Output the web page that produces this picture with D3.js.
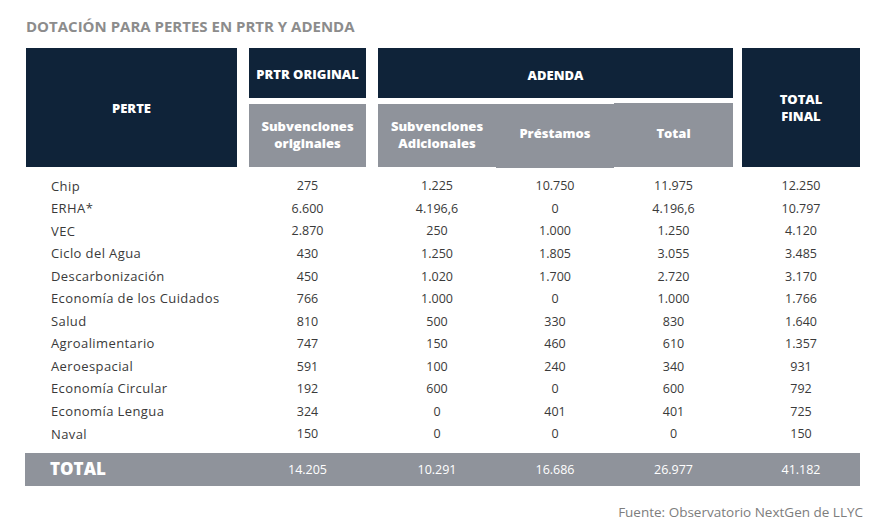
<!DOCTYPE html>
<html>
<head>
<meta charset="utf-8">
<script src="https://cdn.jsdelivr.net/npm/d3@7"></script>
<style>
  body { margin: 0; background: #fff; }
  text { font-family: "Open Sans", sans-serif; }
</style>
</head>
<body>
<script>
var pertes = ["Chip", "ERHA*", "VEC", "Ciclo del Agua", "Descarbonización",
  "Economía de los Cuidados", "Salud", "Agroalimentario", "Aeroespacial",
  "Economía Circular", "Economía Lengua", "Naval"];
var subvOriginales  = [275, 6600, 2870, 430, 450, 766, 810, 747, 591, 192, 324, 150];
var subvAdicionales = [1225, 4196.6, 250, 1250, 1020, 1000, 500, 150, 100, 600, 0, 0];
var prestamos       = [10750, 0, 1000, 1805, 1700, 0, 330, 460, 240, 0, 401, 0];
var totalAdenda     = [11975, 4196.6, 1250, 3055, 2720, 1000, 830, 610, 340, 600, 401, 0];
var totalFinal      = [12250, 10797, 4120, 3485, 3170, 1766, 1640, 1357, 931, 792, 725, 150];
var totales         = [14205, 10291, 16686, 26977, 41182];

var colNames = ["orig", "adic", "prest", "tadenda", "tfinal"];
var series = [subvOriginales, subvAdicionales, prestamos, totalAdenda, totalFinal];

var navy = "#0f2339", grey = "#8f939b", ink = "#3a3a3a";

var es = d3.formatLocale({decimal: ",", thousands: ".", grouping: [3], currency: ["", " €"]});
var fmt = function(v) { return v % 1 ? es.format(",.1f")(v) : es.format(",d")(v); };

var width = 886, height = 530;

var svg = d3.select("body").append("svg")
  .attr("width", width)
  .attr("height", height);

// columnas
var colLeft = {perte: 26, orig: 249, adic: 378, prest: 496, tadenda: 614, tfinal: 742};
var colRight = {perte: 237, orig: 366, adic: 496, prest: 614, tadenda: 733, tfinal: 860};
var cx = function(k) { return (colLeft[k] + colRight[k]) / 2; };

var y = d3.scalePoint().domain(pertes).range([186, 434]);

// título
svg.append("text")
  .attr("x", 26).attr("y", 32)
  .attr("fill", "#8c8c8c")
  .attr("font-size", 15).attr("font-weight", 700)
  .text("DOTACIÓN PARA PERTES EN PRTR Y ADENDA");

// cabecera oscura
var darkBoxes = [
  {x0: colLeft.perte, x1: colRight.perte, y0: 48, y1: 167, lines: ["PERTE"], ty: 113},
  {x0: colLeft.orig, x1: colRight.orig, y0: 48, y1: 98, lines: ["PRTR ORIGINAL"], ty: 79},
  {x0: colLeft.adic, x1: colRight.tadenda, y0: 48, y1: 98, lines: ["ADENDA"], ty: 80},
  {x0: colLeft.tfinal, x1: colRight.tfinal, y0: 48, y1: 167, lines: ["TOTAL", "FINAL"], ty: 104}
];
var greyBoxes = [
  {x0: colLeft.orig, x1: colRight.orig, y0: 104, y1: 167, lines: ["Subvenciones", "originales"], ty: 131},
  {x0: colLeft.adic, x1: colRight.adic, y0: 104, y1: 167, lines: ["Subvenciones", "Adicionales"], ty: 131},
  {x0: colLeft.prest, x1: colRight.prest, y0: 104, y1: 168, lines: ["Préstamos"], ty: 138},
  {x0: colLeft.tadenda, x1: colRight.tadenda, y0: 103, y1: 167, lines: ["Total"], ty: 138}
];

function drawBoxes(data, fill) {
  var g = svg.append("g").selectAll("g").data(data).enter().append("g");
  g.append("rect")
    .attr("x", function(d) { return d.x0; })
    .attr("y", function(d) { return d.y0; })
    .attr("width", function(d) { return d.x1 - d.x0; })
    .attr("height", function(d) { return d.y1 - d.y0; })
    .attr("fill", fill);
  g.each(function(d) {
    var t = d3.select(this).append("text")
      .attr("text-anchor", "middle")
      .attr("fill", "#fff")
      .attr("font-size", 13).attr("font-weight", 800);
    d.lines.forEach(function(l, i) {
      t.append("tspan")
        .attr("x", (d.x0 + d.x1) / 2)
        .attr("y", d.ty + i * 17)
        .text(l);
    });
  });
}
drawBoxes(darkBoxes, navy);
drawBoxes(greyBoxes, grey);

// filas
var rows = svg.append("g").selectAll("g")
  .data(pertes).enter().append("g")
  .attr("transform", function(d) { return "translate(0," + y(d) + ")"; });

rows.append("text")
  .attr("x", 51).attr("dy", "0.35em")
  .attr("fill", ink).attr("font-size", 13).attr("letter-spacing", 0.4)
  .text(function(d) { return d; });

colNames.forEach(function(k, j) {
  rows.append("text")
    .attr("x", cx(k)).attr("dy", "0.35em")
    .attr("text-anchor", "middle")
    .attr("fill", ink).attr("font-size", 12.5)
    .text(function(d, i) { return fmt(series[j][i]); });
});

// fila total
svg.append("rect")
  .attr("x", 25).attr("y", 453)
  .attr("width", 860 - 25).attr("height", 33)
  .attr("fill", grey);

svg.append("text")
  .attr("x", 50).attr("y", 475)
  .attr("fill", "#fff").attr("font-size", 17).attr("font-weight", 800)
  .text("TOTAL");

svg.append("g").selectAll("text")
  .data(totales).enter().append("text")
  .attr("x", function(d, i) { return cx(colNames[i]); })
  .attr("y", 469.5).attr("dy", "0.35em")
  .attr("text-anchor", "middle")
  .attr("fill", "#fff").attr("font-size", 12.5)
  .text(function(d) { return fmt(d); });

// fuente
svg.append("text")
  .attr("x", 863).attr("y", 517)
  .attr("text-anchor", "end")
  .attr("fill", "#7d7d7d").attr("font-size", 13.5)
  .text("Fuente: Observatorio NextGen de LLYC");
</script>
</body>
</html>
